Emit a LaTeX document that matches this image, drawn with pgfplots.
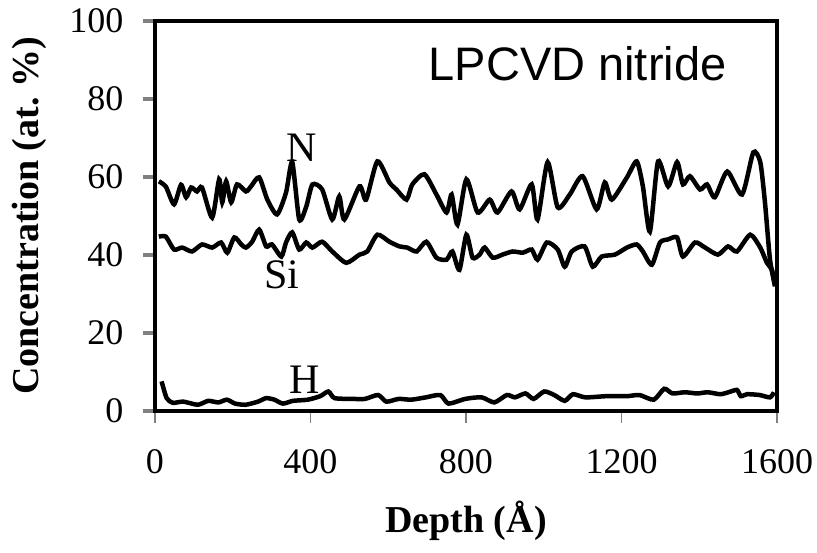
\documentclass[border=0pt]{standalone}
\usepackage{fontspec}
\setmainfont{Liberation Serif}
\newfontfamily\sansf{Liberation Sans}
\usepackage{pgfplots}
\pgfplotsset{compat=1.18}
\begin{document}
\begin{tikzpicture}
\useasboundingbox (-155pt,-142pt) rectangle (662pt,411pt);
\begin{axis}[
  scale only axis, width=622pt, height=390pt,
  xmin=0, xmax=1600, ymin=0, ymax=100,
  xtick={0,400,800,1200,1600}, ytick={0,20,40,60,80,100},
  axis line style={line width=4pt},
  tick align=outside, xtick pos=bottom, ytick pos=left,
  major tick length=12pt,
  xtick style={line width=1.5pt},
  ytick style={line width=4pt},
  /pgf/number format/assume math mode=true,
  /pgf/number format/1000 sep={},
  ticklabel style={font=\fontsize{36}{40}\selectfont},
  xticklabel style={yshift=-23pt},
  yticklabel style={xshift=-16pt},
  xlabel={\textbf{Depth (Å)}},
  ylabel={\textbf{Concentration (at.\ \%)}},
  label style={font=\fontsize{38}{42}\selectfont},
  xlabel style={at={(axis description cs:0.5,0)}, anchor=base, yshift=-122pt},
  ylabel style={at={(axis description cs:0,0.5)}, anchor=center, yshift=126pt},
  clip=false,
]
% N
\addplot[black, line width=4.5pt, smooth, tension=0.4] coordinates {
(10,58.9)(28,57.5)(49,53)(67,58)(80,54.8)(93,57.3)(108,56.3)(121,57.3)(147,49.6)(165,59.4)(173,53.5)(183,58.9)(196,53.5)(211,58.1)(234,56.3)(247,57.6)(268,59.9)(289,54.2)(314,50.4)(337,56)(353,63.8)(371,49.1)(389,52.4)(405,58.1)(430,56.8)(456,49.1)(474,55)(487,49.1)(526,57.6)(543,54.2)(572,64)(603,58.6)(621,56.8)(647,54.2)(662,58.1)(693,60.7)(724,55.5)(750,50.9)(763,55.5)(778,47.8)(801,59.4)(830,50.9)(861,54.2)(881,50.9)(917,56.3)(938,51.7)(969,58.1)(984,49.1)(1010,63.8)(1036,52.2)(1067,55.5)(1100,60.2)(1136,51.7)(1157,58.6)(1175,54.2)(1214,59.9)(1239,64)(1255,57.6)(1273,46)(1294,64)(1320,57.6)(1343,63.8)(1358,58.1)(1376,60.2)(1402,56.8)(1420,58.1)(1440,54.8)(1472,61.4)(1510,55.5)(1539,66.3)(1557,63.8)(1569,53.5)(1582,38.8)(1595,32)
};
% Si
\addplot[black, line width=4.5pt, smooth, tension=0.4] coordinates {
(10,44.7)(28,44.7)(49,41.4)(70,41.9)(95,40.9)(121,42.7)(147,41.9)(170,43.2)(186,40.6)(204,44.5)(222,42.7)(234,41.9)(250,43.4)(268,46.5)(286,42.2)(301,42.7)(325,39.6)(337,43.2)(353,45.8)(371,41.4)(389,43.2)(405,41.9)(430,43.4)(456,40.9)(492,38)(526,40.1)(546,40.9)(572,45.2)(603,43.4)(629,42.2)(649,41.9)(673,40.9)(698,43.4)(724,39.3)(750,38.8)(765,40.9)(783,36.2)(801,45.2)(817,39.3)(835,40.1)(848,41.9)(869,39.3)(894,40.1)(920,40.9)(946,40.6)(969,41.4)(984,38.8)(1008,43.2)(1036,41.4)(1054,37)(1072,40.9)(1105,42.2)(1126,37)(1149,39.6)(1183,40.1)(1214,41.9)(1239,42.7)(1255,40.9)(1278,37.5)(1299,43.2)(1320,44)(1343,44.5)(1358,39.6)(1389,43.2)(1415,41.9)(1448,40.1)(1474,42.2)(1497,40.9)(1531,45.2)(1557,41.9)(1574,38)(1587,36.2)(1595,32)
};
% H
\addplot[black, line width=4.5pt, smooth, tension=0.4] coordinates {
(17,7.6)(30,3.3)(46,2.1)(73,2.4)(110,1.6)(137,2.6)(163,2.2)(185,2.9)(206,1.9)(233,1.6)(265,2.4)(286,3.3)(307,2.9)(329,1.9)(355,2.6)(393,2.9)(425,3.8)(446,5)(462,3.3)(510,3.1)(540,3.1)(574,4.1)(595,2.4)(627,3.1)(659,2.9)(697,3.5)(734,4.1)(755,1.9)(798,3.1)(840,3.5)(873,2.2)(905,4.1)(926,3.5)(953,4.5)(974,3.1)(1001,5)(1027,4.1)(1054,2.6)(1075,4.3)(1107,3.5)(1161,3.8)(1214,3.8)(1246,4.1)(1283,2.9)(1310,5.7)(1331,4.5)(1363,4.8)(1395,4.5)(1422,4.8)(1454,4.3)(1475,4.8)(1497,5.4)(1507,3.8)(1523,4.3)(1555,4.1)(1582,3.5)(1592,4.8)
};
\node[font=\fontsize{42}{46}\selectfont] at (axis cs:376,67.4) {N};
\node[font=\fontsize{42}{46}\selectfont] at (axis cs:327,35) {Si};
\node[font=\fontsize{42}{46}\selectfont] at (axis cs:384,8) {H};
\node[font=\sansf\fontsize{47}{50}\selectfont] at (axis cs:1087,89) {LPCVD nitride};
\end{axis}
\end{tikzpicture}
\end{document}
